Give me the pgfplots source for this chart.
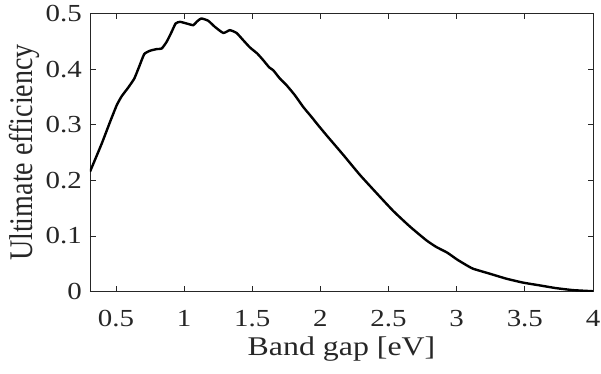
\documentclass[border=0pt]{standalone}
\usepackage{pgfplots}
\pgfplotsset{compat=1.18}
\usepackage{fontspec}
\setmainfont{Liberation Serif}
\newfontfamily\tickf{Liberation Serif}[FakeStretch=1.18]
\newfontfamily\ylabf{Liberation Serif}[FakeStretch=0.85]
\definecolor{axgray}{gray}{0.15}
\begin{document}
\begin{tikzpicture}
\begin{axis}[
  scale only axis,
  width=503pt, height=278pt,
  xmin=0.31, xmax=4, ymin=0, ymax=0.5,
  xtick={0.5,1,1.5,2,2.5,3,3.5,4},
  ytick={0,0.1,0.2,0.3,0.4,0.5},
  yticklabels={0,0.1,0.2,0.3,0.4,0.5},
  xticklabels={0.5,1,1.5,2,2.5,3,3.5,4},
  tick align=inside,
  major tick length=5.5pt,
  axis line style={line width=0.8pt, color=axgray},
  every tick/.style={line width=0.8pt, color=axgray},
  /pgf/number format/assume math mode=true,
  ticklabel style={font=\tickf\fontsize{24.5}{28}\selectfont, text=axgray, inner sep=0pt},
  xticklabel style={anchor=north, yshift=-18.5pt},
  yticklabel style={anchor=east, xshift=-8pt},
  xlabel={Band gap [eV]},
  ylabel={Ultimate efficiency},
  xlabel style={font=\tickf\fontsize{27}{30}\selectfont, text=axgray, inner sep=0pt,
    at={(axis description cs:0.5,0)}, anchor=base, yshift=-63.5pt},
  ylabel style={font=\ylabf\fontsize{33}{36}\selectfont, text=axgray, inner sep=0pt,
    at={(axis description cs:-0.115,0.5)}, anchor=base},
]
\addplot[black, line width=2.4pt, smooth, tension=0.3] coordinates {
(0.31,0.2155) (0.396,0.266) (0.457,0.305) (0.506,0.335) (0.542,0.351)
(0.591,0.367) (0.635,0.383) (0.670,0.404) (0.708,0.427) (0.750,0.433)
(0.799,0.436) (0.836,0.437) (0.872,0.449) (0.909,0.467) (0.938,0.482)
(0.970,0.485) (1.019,0.482) (1.068,0.479) (1.092,0.485) (1.126,0.491)
(1.177,0.487) (1.226,0.476) (1.288,0.465) (1.336,0.470) (1.385,0.465)
(1.434,0.452) (1.483,0.439) (1.537,0.428) (1.581,0.416) (1.625,0.403)
(1.654,0.398) (1.703,0.383) (1.752,0.371) (1.813,0.353) (1.874,0.332)
(1.935,0.314) (1.984,0.299) (2.045,0.281) (2.167,0.246) (2.289,0.210)
(2.412,0.177) (2.534,0.145) (2.656,0.117) (2.778,0.092) (2.851,0.080)
(2.930,0.070) (3.000,0.058) (3.060,0.049) (3.120,0.041) (3.243,0.032)
(3.365,0.023) (3.487,0.016) (3.609,0.011) (3.731,0.006) (3.853,0.0025)
(4.0,0.0005)
};
\end{axis}
\pgfresetboundingbox
\path (-90pt,-81.5pt) rectangle (511pt,291.5pt);
\end{tikzpicture}
\end{document}
